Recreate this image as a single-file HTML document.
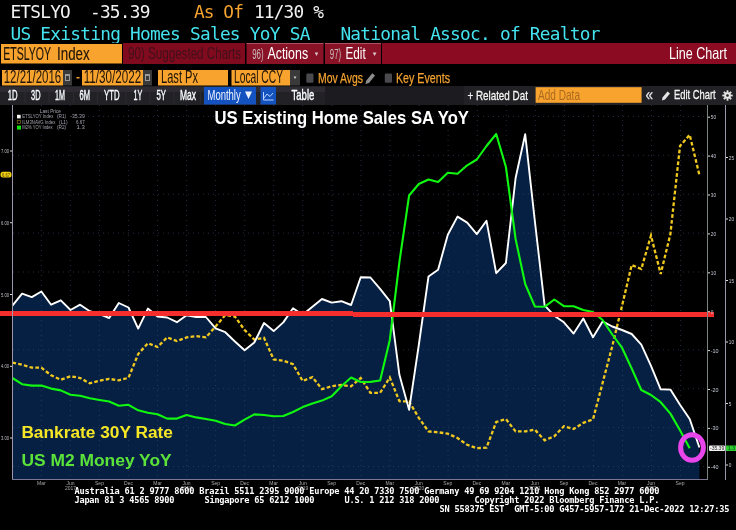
<!DOCTYPE html>
<html><head><meta charset="utf-8"><title>ETSLYOY Index Line Chart</title>
<style>
html,body{margin:0;padding:0;background:#000;width:736px;height:530px;overflow:hidden}
svg{display:block}
</style></head>
<body>
<svg width="736" height="530" viewBox="0 0 736 530">
<rect width="736" height="530" fill="#000"/>
<text x="10.4" y="18" fill="#f2f2f2" font-family="'DejaVu Sans Mono', 'Liberation Mono', monospace" font-size="17.8" font-weight="normal" textLength="140.00" lengthAdjust="spacing" xml:space="preserve" style="white-space:pre">ETSLYO  -35.39</text>
<text x="193.9" y="18" fill="#f5a330" font-family="'DejaVu Sans Mono', 'Liberation Mono', monospace" font-size="17.8" font-weight="normal" textLength="50.00" lengthAdjust="spacing" xml:space="preserve" style="white-space:pre">As Of</text>
<text x="253.9" y="18" fill="#f2f2f2" font-family="'DejaVu Sans Mono', 'Liberation Mono', monospace" font-size="17.8" font-weight="normal" textLength="70.00" lengthAdjust="spacing" xml:space="preserve" style="white-space:pre">11/30 %</text>
<text x="10.4" y="39.5" fill="#45e3ef" font-family="'DejaVu Sans Mono', 'Liberation Mono', monospace" font-size="17.8" font-weight="normal" textLength="300.00" lengthAdjust="spacing" xml:space="preserve" style="white-space:pre">US Existing Homes Sales YoY SA</text>
<text x="340.4" y="39.5" fill="#45e3ef" font-family="'DejaVu Sans Mono', 'Liberation Mono', monospace" font-size="17.8" font-weight="normal" textLength="260.00" lengthAdjust="spacing" xml:space="preserve" style="white-space:pre">National Assoc. of Realtor</text>
<rect x="0" y="43" width="736" height="22" fill="#000"/>
<rect x="1" y="44" width="121" height="19.5" fill="#f8a32e"/>
<text x="3.2" y="59.6" fill="#1e1408" font-family="'Liberation Sans', 'DejaVu Sans', sans-serif" font-size="17.5" font-weight="normal" text-anchor="start" textLength="47.8" lengthAdjust="spacingAndGlyphs" stroke="#1e1408" stroke-width="0.15">ETSLYOY</text>
<text x="57" y="59.6" fill="#1e1408" font-family="'Liberation Sans', 'DejaVu Sans', sans-serif" font-size="17.5" font-weight="normal" text-anchor="start" textLength="32.7" lengthAdjust="spacingAndGlyphs" stroke="#1e1408" stroke-width="0.15">Index</text>
<rect x="123" y="43" width="122" height="21" fill="#800a1e"/>
<text x="128" y="59" fill="#40101a" font-family="'Liberation Sans', 'DejaVu Sans', sans-serif" font-size="17" font-weight="normal" text-anchor="start" textLength="113" lengthAdjust="spacingAndGlyphs">90) Suggested Charts</text>
<rect x="246.5" y="43" width="77" height="21" fill="#8a1226"/>
<rect x="246.5" y="43" width="77" height="1" fill="#b0505e"/>
<text x="252.2" y="58.8" fill="#c9b9bc" font-family="'Liberation Sans', 'DejaVu Sans', sans-serif" font-size="15" font-weight="normal" text-anchor="start" textLength="11.4" lengthAdjust="spacingAndGlyphs">96)</text>
<text x="267.4" y="58.8" fill="#ffffff" font-family="'Liberation Sans', 'DejaVu Sans', sans-serif" font-size="17" font-weight="normal" text-anchor="start" textLength="40.7" lengthAdjust="spacingAndGlyphs">Actions</text>
<path d="M314.7 52.5 L318.3 52.5 L316.5 56 Z" fill="#d8c8cc"/>
<rect x="325" y="43" width="56" height="21" fill="#8a1226"/>
<rect x="325" y="43" width="56" height="1" fill="#b0505e"/>
<text x="329.8" y="58.8" fill="#c9b9bc" font-family="'Liberation Sans', 'DejaVu Sans', sans-serif" font-size="15" font-weight="normal" text-anchor="start" textLength="11.4" lengthAdjust="spacingAndGlyphs">97)</text>
<text x="345.5" y="58.8" fill="#ffffff" font-family="'Liberation Sans', 'DejaVu Sans', sans-serif" font-size="17" font-weight="normal" text-anchor="start" textLength="20.2" lengthAdjust="spacingAndGlyphs">Edit</text>
<path d="M372.7 52.5 L376.5 52.5 L374.6 56 Z" fill="#d8c8cc"/>
<rect x="382" y="43" width="354" height="21" fill="#8a0b22"/>
<text x="669" y="58.5" fill="#ffffff" font-family="'Liberation Sans', 'DejaVu Sans', sans-serif" font-size="16.5" font-weight="normal" text-anchor="start" textLength="58" lengthAdjust="spacingAndGlyphs">Line Chart</text>
<rect x="2" y="70" width="61" height="15.5" fill="#f8a32e"/>
<text x="3.7" y="83" fill="#1e1408" font-family="'Liberation Sans', 'DejaVu Sans', sans-serif" font-size="17.5" font-weight="normal" text-anchor="start" textLength="57.5" lengthAdjust="spacingAndGlyphs">12/21/2016</text>
<rect x="63" y="70" width="9" height="15.5" fill="#3a3a3a"/>
<rect x="65" y="74" width="5" height="7" fill="#9a9a9a"/><rect x="66" y="76" width="3" height="4" fill="#3a3a3a"/>
<rect x="76.5" y="77" width="3" height="1.5" fill="#f8a32e"/>
<rect x="82" y="70" width="61" height="15.5" fill="#f8a32e"/>
<text x="83.7" y="83" fill="#1e1408" font-family="'Liberation Sans', 'DejaVu Sans', sans-serif" font-size="17.5" font-weight="normal" text-anchor="start" textLength="57.5" lengthAdjust="spacingAndGlyphs">11/30/2022</text>
<rect x="143" y="70" width="9" height="15.5" fill="#3a3a3a"/>
<rect x="145" y="74" width="5" height="7" fill="#9a9a9a"/><rect x="146" y="76" width="3" height="4" fill="#3a3a3a"/>
<rect x="158" y="70" width="70" height="15.5" fill="#f8a32e"/>
<text x="161" y="83" fill="#1e1408" font-family="'Liberation Sans', 'DejaVu Sans', sans-serif" font-size="17.5" font-weight="normal" text-anchor="start" textLength="37" lengthAdjust="spacingAndGlyphs">Last Px</text>
<rect x="231.5" y="70" width="58.5" height="15.5" fill="#f8a32e"/>
<text x="234" y="83" fill="#1e1408" font-family="'Liberation Sans', 'DejaVu Sans', sans-serif" font-size="17.5" font-weight="normal" text-anchor="start" textLength="49" lengthAdjust="spacingAndGlyphs">Local CCY</text>
<rect x="290" y="70" width="10" height="15.5" fill="#3a3a3a"/>
<path d="M293.5 76.5 L296.5 76.5 L295 79 Z" fill="#cccccc"/>
<rect x="306.3" y="73.5" width="7.2" height="9.2" rx="1.2" fill="#4a4a4e"/>
<text x="318" y="83.2" fill="#f5a330" font-family="'Liberation Sans', 'DejaVu Sans', sans-serif" font-size="15.5" font-weight="normal" text-anchor="start" textLength="45" lengthAdjust="spacingAndGlyphs" stroke="#f5a330" stroke-width="0.25">Mov Avgs</text>
<path d="M365.5 84 L366.2 80.8 L372.2 73.2 L375 75.4 L369 83 Z" fill="#8c8c8c"/>
<rect x="384.8" y="73.5" width="7.2" height="9.2" rx="1.2" fill="#4a4a4e"/>
<text x="396" y="83.2" fill="#f5a330" font-family="'Liberation Sans', 'DejaVu Sans', sans-serif" font-size="15.5" font-weight="normal" text-anchor="start" textLength="54" lengthAdjust="spacingAndGlyphs" stroke="#f5a330" stroke-width="0.25">Key Events</text>
<rect x="0" y="86" width="325" height="19" fill="#222226"/>
<rect x="0" y="87" width="325" height="5" fill="#2e2c32"/>
<rect x="325" y="86" width="139" height="19" fill="#1c1c20"/>
<rect x="464" y="86" width="272" height="19" fill="#222226"/>
<text x="7.7" y="100" fill="#f8fcff" font-family="'Liberation Sans', 'DejaVu Sans', sans-serif" font-size="13.8" font-weight="normal" text-anchor="start" textLength="9.8" lengthAdjust="spacingAndGlyphs" stroke="#f8fcff" stroke-width="0.4">1D</text>
<text x="31" y="100" fill="#f8fcff" font-family="'Liberation Sans', 'DejaVu Sans', sans-serif" font-size="13.8" font-weight="normal" text-anchor="start" textLength="9.5" lengthAdjust="spacingAndGlyphs" stroke="#f8fcff" stroke-width="0.4">3D</text>
<text x="55" y="100" fill="#f8fcff" font-family="'Liberation Sans', 'DejaVu Sans', sans-serif" font-size="13.8" font-weight="normal" text-anchor="start" textLength="10" lengthAdjust="spacingAndGlyphs" stroke="#f8fcff" stroke-width="0.4">1M</text>
<text x="79.5" y="100" fill="#f8fcff" font-family="'Liberation Sans', 'DejaVu Sans', sans-serif" font-size="13.8" font-weight="normal" text-anchor="start" textLength="10.5" lengthAdjust="spacingAndGlyphs" stroke="#f8fcff" stroke-width="0.4">6M</text>
<text x="104" y="100" fill="#f8fcff" font-family="'Liberation Sans', 'DejaVu Sans', sans-serif" font-size="13.8" font-weight="normal" text-anchor="start" textLength="15.5" lengthAdjust="spacingAndGlyphs" stroke="#f8fcff" stroke-width="0.4">YTD</text>
<text x="133.5" y="100" fill="#f8fcff" font-family="'Liberation Sans', 'DejaVu Sans', sans-serif" font-size="13.8" font-weight="normal" text-anchor="start" textLength="8.800000000000011" lengthAdjust="spacingAndGlyphs" stroke="#f8fcff" stroke-width="0.4">1Y</text>
<text x="156.5" y="100" fill="#f8fcff" font-family="'Liberation Sans', 'DejaVu Sans', sans-serif" font-size="13.8" font-weight="normal" text-anchor="start" textLength="9.5" lengthAdjust="spacingAndGlyphs" stroke="#f8fcff" stroke-width="0.4">5Y</text>
<text x="180" y="100" fill="#f8fcff" font-family="'Liberation Sans', 'DejaVu Sans', sans-serif" font-size="13.8" font-weight="normal" text-anchor="start" textLength="16" lengthAdjust="spacingAndGlyphs" stroke="#f8fcff" stroke-width="0.4">Max</text>
<rect x="24.5" y="88" width="1" height="15" fill="#2c2c30"/>
<rect x="48.5" y="88" width="1" height="15" fill="#2c2c30"/>
<rect x="73" y="88" width="1" height="15" fill="#2c2c30"/>
<rect x="97" y="88" width="1" height="15" fill="#2c2c30"/>
<rect x="125.5" y="88" width="1" height="15" fill="#2c2c30"/>
<rect x="149.5" y="88" width="1" height="15" fill="#2c2c30"/>
<rect x="173.5" y="88" width="1" height="15" fill="#2c2c30"/>
<rect x="200" y="88" width="1" height="15" fill="#2c2c30"/>
<rect x="204" y="87" width="52" height="17.5" fill="#1452c0"/>
<text x="207.5" y="100" fill="#eef4ff" font-family="'Liberation Sans', 'DejaVu Sans', sans-serif" font-size="13.8" font-weight="normal" text-anchor="start" textLength="33.2" lengthAdjust="spacingAndGlyphs">Monthly</text>
<path d="M245 91.5 L252 91.5 L248.5 99 Z" fill="#f0f4ff"/>
<rect x="260.5" y="87" width="15.5" height="17.5" fill="#1452c0"/>
<path d="M263.5 92 L263.5 100 L273.5 100 M264 98 L267 94 L270 96.5 L273 93" stroke="#b8d4ff" stroke-width="1" fill="none"/>
<text x="291.5" y="100" fill="#f8fcff" font-family="'Liberation Sans', 'DejaVu Sans', sans-serif" font-size="13.8" font-weight="normal" text-anchor="start" textLength="22.8" lengthAdjust="spacingAndGlyphs" stroke="#f8fcff" stroke-width="0.4">Table</text>
<text x="467.4" y="99.6" fill="#f4f4f4" font-family="'Liberation Sans', 'DejaVu Sans', sans-serif" font-size="13.3" font-weight="normal" text-anchor="start" textLength="60.5" lengthAdjust="spacingAndGlyphs" stroke="#f4f4f4" stroke-width="0.3">+ Related Dat</text>
<rect x="535.6" y="87.2" width="106" height="15.6" fill="#f8a32e"/>
<text x="538" y="99.8" fill="#a86a20" font-family="'Liberation Sans', 'DejaVu Sans', sans-serif" font-size="14" font-weight="normal" text-anchor="start" textLength="42" lengthAdjust="spacingAndGlyphs">Add Data</text>
<text x="645.5" y="99.6" fill="#e8e8e8" font-family="'Liberation Sans', 'DejaVu Sans', sans-serif" font-size="16" font-weight="normal" text-anchor="start" textLength="7.5" lengthAdjust="spacingAndGlyphs" stroke="#e8e8e8" stroke-width="0.3">«</text>
<path d="M662 100.5 L662.5 97.5 L667.5 91.5 L670 93.5 L665 99.5 Z" fill="#e4e4e4"/>
<text x="674" y="99.3" fill="#f4f4f4" font-family="'Liberation Sans', 'DejaVu Sans', sans-serif" font-size="13.3" font-weight="normal" text-anchor="start" textLength="41.7" lengthAdjust="spacingAndGlyphs" stroke="#f4f4f4" stroke-width="0.3">Edit Chart</text>
<rect x="726.6" y="90.3" width="1.8" height="3" fill="#e4e4e4" transform="rotate(0 727.5 95.5)"/> <rect x="726.6" y="90.3" width="1.8" height="3" fill="#e4e4e4" transform="rotate(45 727.5 95.5)"/> <rect x="726.6" y="90.3" width="1.8" height="3" fill="#e4e4e4" transform="rotate(90 727.5 95.5)"/> <rect x="726.6" y="90.3" width="1.8" height="3" fill="#e4e4e4" transform="rotate(135 727.5 95.5)"/> <rect x="726.6" y="90.3" width="1.8" height="3" fill="#e4e4e4" transform="rotate(180 727.5 95.5)"/> <rect x="726.6" y="90.3" width="1.8" height="3" fill="#e4e4e4" transform="rotate(225 727.5 95.5)"/> <rect x="726.6" y="90.3" width="1.8" height="3" fill="#e4e4e4" transform="rotate(270 727.5 95.5)"/> <rect x="726.6" y="90.3" width="1.8" height="3" fill="#e4e4e4" transform="rotate(315 727.5 95.5)"/>
<circle cx="727.5" cy="95.5" r="3.3" fill="#e4e4e4"/><circle cx="727.5" cy="95.5" r="1.3" fill="#222226"/>
<rect x="0" y="105" width="736" height="375" fill="#000"/>
<polygon points="12.4,305.6 22.1,293.6 31.8,297.1 41.4,291.5 51.1,304.7 60.8,300.3 70.5,310.0 80.1,304.7 89.8,311.2 99.5,314.0 109.2,318.0 118.8,303.0 128.5,307.5 138.2,328.6 147.9,308.6 157.5,316.5 167.2,317.5 176.9,322.2 186.6,315.3 196.2,317.0 205.9,317.0 215.6,328.4 225.3,332.2 234.9,341.5 244.6,350.3 254.3,342.5 264.0,323.0 273.7,331.1 283.3,322.4 293.0,308.3 302.7,314.8 312.4,306.8 322.0,299.0 331.7,302.6 341.4,301.2 351.1,305.0 360.7,277.3 370.4,277.5 380.1,288.9 389.8,301.2 399.4,374.8 409.1,409.8 418.8,345.0 428.5,276.5 438.1,269.8 447.8,234.7 457.5,216.6 467.2,222.6 476.8,234.1 486.5,220.8 496.2,273.2 505.9,263.0 515.6,178.0 525.2,134.3 534.9,221.5 544.6,305.3 554.3,315.7 563.9,322.3 573.6,333.6 583.3,318.5 593.0,337.2 602.6,321.4 612.3,326.5 622.0,330.0 631.7,334.0 641.3,344.7 651.0,365.8 660.7,389.3 670.4,389.6 680.0,404.8 689.7,419.0 699.4,447.5 699.4,479 12.4,479" fill="#062044"/>
<path d="M13 116.4 H707 M13 155.3 H707 M13 194.2 H707 M13 233.1 H707 M13 272.0 H707 M13 349.8 H707 M13 388.7 H707 M13 427.6 H707 M13 466.5 H707 M41.3 105 V479 M70.3 105 V479 M99.4 105 V479 M128.4 105 V479 M157.5 105 V479 M186.6 105 V479 M215.6 105 V479 M244.7 105 V479 M273.7 105 V479 M302.8 105 V479 M331.9 105 V479 M360.9 105 V479 M390.0 105 V479 M419.1 105 V479 M448.1 105 V479 M477.2 105 V479 M506.2 105 V479 M535.3 105 V479 M564.4 105 V479 M593.4 105 V479 M622.5 105 V479 M651.5 105 V479 M680.6 105 V479" stroke="#3a4a6a" stroke-width="1" stroke-dasharray="1 4" fill="none" opacity="0.6"/>
<polyline points="12.4,362.6 22.1,364.7 31.8,367.7 41.4,367.7 51.1,375.3 60.8,379.8 70.5,376.2 80.1,378.0 89.8,383.3 99.5,380.6 109.2,378.9 118.8,380.3 128.5,377.8 138.2,354.0 147.9,343.2 157.5,347.0 167.2,337.4 176.9,341.0 186.6,337.4 196.2,336.2 205.9,337.4 215.6,326.5 225.3,315.0 234.9,316.5 244.6,330.0 254.3,339.6 264.0,337.8 273.7,359.5 283.3,360.7 293.0,364.2 302.7,381.0 312.4,377.1 322.0,389.1 331.7,386.3 341.4,385.0 351.1,386.3 360.7,378.0 370.4,392.8 380.1,392.8 389.8,377.5 399.4,401.2 409.1,401.5 418.8,417.8 428.5,431.5 438.1,432.3 447.8,433.6 457.5,438.0 467.2,444.8 476.8,448.2 486.5,447.7 496.2,422.0 505.9,419.1 515.6,431.4 525.2,431.4 534.9,429.7 544.6,440.3 554.3,436.3 563.9,426.2 573.6,429.0 583.3,422.8 593.0,419.4 602.6,383.0 612.3,346.0 622.0,306.0 631.7,265.0 641.3,269.0 651.0,235.5 660.7,274.0 670.4,234.0 680.0,146.0 689.7,134.8 699.4,175.0" fill="none" stroke="#f0c81e" stroke-width="2.3" stroke-dasharray="3.7 2.2"/>
<polyline points="12.4,305.6 22.1,293.6 31.8,297.1 41.4,291.5 51.1,304.7 60.8,300.3 70.5,310.0 80.1,304.7 89.8,311.2 99.5,314.0 109.2,318.0 118.8,303.0 128.5,307.5 138.2,328.6 147.9,308.6 157.5,316.5 167.2,317.5 176.9,322.2 186.6,315.3 196.2,317.0 205.9,317.0 215.6,328.4 225.3,332.2 234.9,341.5 244.6,350.3 254.3,342.5 264.0,323.0 273.7,331.1 283.3,322.4 293.0,308.3 302.7,314.8 312.4,306.8 322.0,299.0 331.7,302.6 341.4,301.2 351.1,305.0 360.7,277.3 370.4,277.5 380.1,288.9 389.8,301.2 399.4,374.8 409.1,409.8 418.8,345.0 428.5,276.5 438.1,269.8 447.8,234.7 457.5,216.6 467.2,222.6 476.8,234.1 486.5,220.8 496.2,273.2 505.9,263.0 515.6,178.0 525.2,134.3 534.9,221.5 544.6,305.3 554.3,315.7 563.9,322.3 573.6,333.6 583.3,318.5 593.0,337.2 602.6,321.4 612.3,326.5 622.0,330.0 631.7,334.0 641.3,344.7 651.0,365.8 660.7,389.3 670.4,389.6 680.0,404.8 689.7,419.0 699.4,447.5" fill="none" stroke="#ffffff" stroke-width="1.9" stroke-linejoin="round"/>
<polyline points="12.4,378.0 22.1,384.2 31.8,385.6 41.4,385.6 51.1,388.6 60.8,390.4 70.5,394.8 80.1,395.7 89.8,398.3 99.5,400.0 109.2,401.5 118.8,405.7 128.5,404.8 138.2,410.3 147.9,412.8 157.5,414.2 167.2,418.6 176.9,418.6 186.6,415.0 196.2,417.4 205.9,419.0 215.6,420.7 225.3,424.0 234.9,425.5 244.6,419.6 254.3,414.4 264.0,415.0 273.7,416.3 283.3,416.0 293.0,412.0 302.7,407.1 312.4,403.6 322.0,400.6 331.7,396.2 341.4,386.3 351.1,377.5 360.7,382.0 370.4,381.9 380.1,380.5 389.8,340.0 399.4,262.0 409.1,195.5 418.8,184.0 428.5,179.5 438.1,181.9 447.8,172.8 457.5,173.7 467.2,165.3 476.8,159.5 486.5,146.0 496.2,134.0 505.9,167.0 515.6,239.0 525.2,284.0 534.9,306.5 544.6,306.8 554.3,299.5 563.9,306.2 573.6,306.2 583.3,310.0 593.0,312.0 602.6,320.0 612.3,334.5 622.0,347.7 631.7,368.5 641.3,390.0 651.0,395.0 660.7,402.2 670.4,413.6 680.0,430.2 689.7,448.3" fill="none" stroke="#10f810" stroke-width="2.1" stroke-linejoin="round"/>
<rect x="0" y="311" width="353" height="5" fill="#f52d2d"/>
<rect x="353" y="312" width="361" height="5" fill="#f52d2d"/>
<rect x="12" y="105" width="1" height="375" fill="#9c94aa"/>
<rect x="12" y="479" width="696" height="1" fill="#7c7692"/>
<rect x="707" y="105" width="1" height="375" fill="#7a8480"/>
<rect x="725" y="105" width="1" height="375" fill="#9c94aa"/>
<rect x="708" y="116.7" width="2" height="1" fill="#ddd"/>
<text x="710.8" y="119.19999999999999" fill="#c8ccd8" font-family="'Liberation Sans', 'DejaVu Sans', sans-serif" font-size="5.2" font-weight="normal" text-anchor="start" textLength="5.2" lengthAdjust="spacingAndGlyphs">50</text>
<rect x="708" y="155.6" width="2" height="1" fill="#ddd"/>
<text x="710.8" y="158.1" fill="#c8ccd8" font-family="'Liberation Sans', 'DejaVu Sans', sans-serif" font-size="5.2" font-weight="normal" text-anchor="start" textLength="5.2" lengthAdjust="spacingAndGlyphs">40</text>
<rect x="708" y="194.5" width="2" height="1" fill="#ddd"/>
<text x="710.8" y="197.0" fill="#c8ccd8" font-family="'Liberation Sans', 'DejaVu Sans', sans-serif" font-size="5.2" font-weight="normal" text-anchor="start" textLength="5.2" lengthAdjust="spacingAndGlyphs">30</text>
<rect x="708" y="233.4" width="2" height="1" fill="#ddd"/>
<text x="710.8" y="235.89999999999998" fill="#c8ccd8" font-family="'Liberation Sans', 'DejaVu Sans', sans-serif" font-size="5.2" font-weight="normal" text-anchor="start" textLength="5.2" lengthAdjust="spacingAndGlyphs">20</text>
<rect x="708" y="272.3" width="2" height="1" fill="#ddd"/>
<text x="710.8" y="274.8" fill="#c8ccd8" font-family="'Liberation Sans', 'DejaVu Sans', sans-serif" font-size="5.2" font-weight="normal" text-anchor="start" textLength="5.2" lengthAdjust="spacingAndGlyphs">10</text>
<rect x="708" y="311.2" width="2" height="1" fill="#ddd"/>
<text x="710.8" y="313.7" fill="#c8ccd8" font-family="'Liberation Sans', 'DejaVu Sans', sans-serif" font-size="5.2" font-weight="normal" text-anchor="start" textLength="2.6" lengthAdjust="spacingAndGlyphs">0</text>
<rect x="708" y="350.1" width="2" height="1" fill="#ddd"/>
<text x="710.8" y="352.59999999999997" fill="#c8ccd8" font-family="'Liberation Sans', 'DejaVu Sans', sans-serif" font-size="5.2" font-weight="normal" text-anchor="start" textLength="7.800000000000001" lengthAdjust="spacingAndGlyphs">-10</text>
<rect x="708" y="389.0" width="2" height="1" fill="#ddd"/>
<text x="710.8" y="391.5" fill="#c8ccd8" font-family="'Liberation Sans', 'DejaVu Sans', sans-serif" font-size="5.2" font-weight="normal" text-anchor="start" textLength="7.800000000000001" lengthAdjust="spacingAndGlyphs">-20</text>
<rect x="708" y="427.9" width="2" height="1" fill="#ddd"/>
<text x="710.8" y="430.4" fill="#c8ccd8" font-family="'Liberation Sans', 'DejaVu Sans', sans-serif" font-size="5.2" font-weight="normal" text-anchor="start" textLength="7.800000000000001" lengthAdjust="spacingAndGlyphs">-30</text>
<rect x="708" y="466.8" width="2" height="1" fill="#ddd"/>
<text x="710.8" y="469.29999999999995" fill="#c8ccd8" font-family="'Liberation Sans', 'DejaVu Sans', sans-serif" font-size="5.2" font-weight="normal" text-anchor="start" textLength="7.800000000000001" lengthAdjust="spacingAndGlyphs">-40</text>
<rect x="726" y="157.0" width="2" height="1" fill="#ddd"/>
<text x="728.8" y="159.5" fill="#c8ccd8" font-family="'Liberation Sans', 'DejaVu Sans', sans-serif" font-size="5.2" font-weight="normal" text-anchor="start" textLength="5.2" lengthAdjust="spacingAndGlyphs">25</text>
<rect x="726" y="218.5" width="2" height="1" fill="#ddd"/>
<text x="728.8" y="221.0" fill="#c8ccd8" font-family="'Liberation Sans', 'DejaVu Sans', sans-serif" font-size="5.2" font-weight="normal" text-anchor="start" textLength="5.2" lengthAdjust="spacingAndGlyphs">20</text>
<rect x="726" y="280.0" width="2" height="1" fill="#ddd"/>
<text x="728.8" y="282.5" fill="#c8ccd8" font-family="'Liberation Sans', 'DejaVu Sans', sans-serif" font-size="5.2" font-weight="normal" text-anchor="start" textLength="5.2" lengthAdjust="spacingAndGlyphs">15</text>
<rect x="726" y="341.5" width="2" height="1" fill="#ddd"/>
<text x="728.8" y="344.0" fill="#c8ccd8" font-family="'Liberation Sans', 'DejaVu Sans', sans-serif" font-size="5.2" font-weight="normal" text-anchor="start" textLength="5.2" lengthAdjust="spacingAndGlyphs">10</text>
<rect x="726" y="403.0" width="2" height="1" fill="#ddd"/>
<text x="728.8" y="405.5" fill="#c8ccd8" font-family="'Liberation Sans', 'DejaVu Sans', sans-serif" font-size="5.2" font-weight="normal" text-anchor="start" textLength="2.6" lengthAdjust="spacingAndGlyphs">5</text>
<rect x="726" y="464.5" width="2" height="1" fill="#ddd"/>
<text x="728.8" y="467.0" fill="#c8ccd8" font-family="'Liberation Sans', 'DejaVu Sans', sans-serif" font-size="5.2" font-weight="normal" text-anchor="start" textLength="2.6" lengthAdjust="spacingAndGlyphs">0</text>
<rect x="10" y="150.5" width="2" height="1" fill="#ddd"/>
<text x="1" y="153.0" fill="#c0c0c8" font-family="'Liberation Sans', 'DejaVu Sans', sans-serif" font-size="5.4" font-weight="normal" text-anchor="start" textLength="8" lengthAdjust="spacingAndGlyphs">7.00</text>
<rect x="10" y="222.2" width="2" height="1" fill="#ddd"/>
<text x="1" y="224.75" fill="#c0c0c8" font-family="'Liberation Sans', 'DejaVu Sans', sans-serif" font-size="5.4" font-weight="normal" text-anchor="start" textLength="8" lengthAdjust="spacingAndGlyphs">6.00</text>
<rect x="10" y="294.0" width="2" height="1" fill="#ddd"/>
<text x="1" y="296.5" fill="#c0c0c8" font-family="'Liberation Sans', 'DejaVu Sans', sans-serif" font-size="5.4" font-weight="normal" text-anchor="start" textLength="8" lengthAdjust="spacingAndGlyphs">5.00</text>
<rect x="10" y="365.8" width="2" height="1" fill="#ddd"/>
<text x="1" y="368.25" fill="#c0c0c8" font-family="'Liberation Sans', 'DejaVu Sans', sans-serif" font-size="5.4" font-weight="normal" text-anchor="start" textLength="8" lengthAdjust="spacingAndGlyphs">4.00</text>
<rect x="10" y="437.5" width="2" height="1" fill="#ddd"/>
<text x="1" y="440.0" fill="#c0c0c8" font-family="'Liberation Sans', 'DejaVu Sans', sans-serif" font-size="5.4" font-weight="normal" text-anchor="start" textLength="8" lengthAdjust="spacingAndGlyphs">3.00</text>
<rect x="0.5" y="171.8" width="11" height="5.8" rx="2.5" fill="#f0d010"/>
<text x="2" y="176.6" fill="#4a3a00" font-family="'Liberation Sans', 'DejaVu Sans', sans-serif" font-size="5.2" font-weight="normal" text-anchor="start" textLength="8" lengthAdjust="spacingAndGlyphs">6.67</text>
<rect x="709" y="445.5" width="16" height="5.5" rx="1" fill="#f0f0f0"/>
<text x="710" y="450.3" fill="#222" font-family="'Liberation Sans', 'DejaVu Sans', sans-serif" font-size="5" font-weight="normal" text-anchor="start">-35.39</text>
<rect x="726" y="445.5" width="10" height="5.5" fill="#2ed02e"/>
<text x="728" y="450.3" fill="#042" font-family="'Liberation Sans', 'DejaVu Sans', sans-serif" font-size="5" font-weight="normal" text-anchor="start">1.3</text>
<text x="41.428" y="484.5" fill="#a8a8a8" font-family="'Liberation Sans', 'DejaVu Sans', sans-serif" font-size="5" font-weight="normal" text-anchor="middle">Mar</text>
<text x="70.456" y="484.5" fill="#a8a8a8" font-family="'Liberation Sans', 'DejaVu Sans', sans-serif" font-size="5" font-weight="normal" text-anchor="middle">Jun</text>
<text x="70.456" y="490" fill="#a8a8a8" font-family="'Liberation Sans', 'DejaVu Sans', sans-serif" font-size="5" font-weight="normal" text-anchor="middle">2017</text>
<text x="99.48400000000001" y="484.5" fill="#a8a8a8" font-family="'Liberation Sans', 'DejaVu Sans', sans-serif" font-size="5" font-weight="normal" text-anchor="middle">Sep</text>
<text x="128.512" y="484.5" fill="#a8a8a8" font-family="'Liberation Sans', 'DejaVu Sans', sans-serif" font-size="5" font-weight="normal" text-anchor="middle">Dec</text>
<text x="157.54000000000002" y="484.5" fill="#a8a8a8" font-family="'Liberation Sans', 'DejaVu Sans', sans-serif" font-size="5" font-weight="normal" text-anchor="middle">Mar</text>
<text x="186.568" y="484.5" fill="#a8a8a8" font-family="'Liberation Sans', 'DejaVu Sans', sans-serif" font-size="5" font-weight="normal" text-anchor="middle">Jun</text>
<text x="186.568" y="490" fill="#a8a8a8" font-family="'Liberation Sans', 'DejaVu Sans', sans-serif" font-size="5" font-weight="normal" text-anchor="middle">2018</text>
<text x="215.596" y="484.5" fill="#a8a8a8" font-family="'Liberation Sans', 'DejaVu Sans', sans-serif" font-size="5" font-weight="normal" text-anchor="middle">Sep</text>
<text x="244.624" y="484.5" fill="#a8a8a8" font-family="'Liberation Sans', 'DejaVu Sans', sans-serif" font-size="5" font-weight="normal" text-anchor="middle">Dec</text>
<text x="273.652" y="484.5" fill="#a8a8a8" font-family="'Liberation Sans', 'DejaVu Sans', sans-serif" font-size="5" font-weight="normal" text-anchor="middle">Mar</text>
<text x="302.68" y="484.5" fill="#a8a8a8" font-family="'Liberation Sans', 'DejaVu Sans', sans-serif" font-size="5" font-weight="normal" text-anchor="middle">Jun</text>
<text x="302.68" y="490" fill="#a8a8a8" font-family="'Liberation Sans', 'DejaVu Sans', sans-serif" font-size="5" font-weight="normal" text-anchor="middle">2019</text>
<text x="331.70799999999997" y="484.5" fill="#a8a8a8" font-family="'Liberation Sans', 'DejaVu Sans', sans-serif" font-size="5" font-weight="normal" text-anchor="middle">Sep</text>
<text x="360.736" y="484.5" fill="#a8a8a8" font-family="'Liberation Sans', 'DejaVu Sans', sans-serif" font-size="5" font-weight="normal" text-anchor="middle">Dec</text>
<text x="389.764" y="484.5" fill="#a8a8a8" font-family="'Liberation Sans', 'DejaVu Sans', sans-serif" font-size="5" font-weight="normal" text-anchor="middle">Mar</text>
<text x="418.792" y="484.5" fill="#a8a8a8" font-family="'Liberation Sans', 'DejaVu Sans', sans-serif" font-size="5" font-weight="normal" text-anchor="middle">Jun</text>
<text x="418.792" y="490" fill="#a8a8a8" font-family="'Liberation Sans', 'DejaVu Sans', sans-serif" font-size="5" font-weight="normal" text-anchor="middle">2020</text>
<text x="447.82" y="484.5" fill="#a8a8a8" font-family="'Liberation Sans', 'DejaVu Sans', sans-serif" font-size="5" font-weight="normal" text-anchor="middle">Sep</text>
<text x="476.84799999999996" y="484.5" fill="#a8a8a8" font-family="'Liberation Sans', 'DejaVu Sans', sans-serif" font-size="5" font-weight="normal" text-anchor="middle">Dec</text>
<text x="505.876" y="484.5" fill="#a8a8a8" font-family="'Liberation Sans', 'DejaVu Sans', sans-serif" font-size="5" font-weight="normal" text-anchor="middle">Mar</text>
<text x="534.904" y="484.5" fill="#a8a8a8" font-family="'Liberation Sans', 'DejaVu Sans', sans-serif" font-size="5" font-weight="normal" text-anchor="middle">Jun</text>
<text x="534.904" y="490" fill="#a8a8a8" font-family="'Liberation Sans', 'DejaVu Sans', sans-serif" font-size="5" font-weight="normal" text-anchor="middle">2021</text>
<text x="563.932" y="484.5" fill="#a8a8a8" font-family="'Liberation Sans', 'DejaVu Sans', sans-serif" font-size="5" font-weight="normal" text-anchor="middle">Sep</text>
<text x="592.96" y="484.5" fill="#a8a8a8" font-family="'Liberation Sans', 'DejaVu Sans', sans-serif" font-size="5" font-weight="normal" text-anchor="middle">Dec</text>
<text x="621.9879999999999" y="484.5" fill="#a8a8a8" font-family="'Liberation Sans', 'DejaVu Sans', sans-serif" font-size="5" font-weight="normal" text-anchor="middle">Mar</text>
<text x="651.016" y="484.5" fill="#a8a8a8" font-family="'Liberation Sans', 'DejaVu Sans', sans-serif" font-size="5" font-weight="normal" text-anchor="middle">Jun</text>
<text x="651.016" y="490" fill="#a8a8a8" font-family="'Liberation Sans', 'DejaVu Sans', sans-serif" font-size="5" font-weight="normal" text-anchor="middle">2022</text>
<text x="680.044" y="484.5" fill="#a8a8a8" font-family="'Liberation Sans', 'DejaVu Sans', sans-serif" font-size="5" font-weight="normal" text-anchor="middle">Sep</text>
<rect x="14" y="106" width="74" height="26" fill="#000"/>
<text x="39.8" y="112.7" fill="#a4a4b0" font-family="'Liberation Sans', 'DejaVu Sans', sans-serif" font-size="5.2" font-weight="normal" text-anchor="start" textLength="21.2" lengthAdjust="spacingAndGlyphs">Last Price</text>
<rect x="17" y="114.8" width="3.7" height="3.6" fill="#f4f4f4"/>
<text x="22.3" y="118.4" fill="#a4a4b0" font-family="'Liberation Sans', 'DejaVu Sans', sans-serif" font-size="5.2" font-weight="normal" text-anchor="start" textLength="31" lengthAdjust="spacingAndGlyphs">ETSLYOY Index</text>
<text x="56.9" y="118.4" fill="#a4a4b0" font-family="'Liberation Sans', 'DejaVu Sans', sans-serif" font-size="5.2" font-weight="normal" text-anchor="start" textLength="9.3" lengthAdjust="spacingAndGlyphs">(R1)</text>
<text x="70.3" y="118.4" fill="#a4a4b0" font-family="'Liberation Sans', 'DejaVu Sans', sans-serif" font-size="5.2" font-weight="normal" text-anchor="start" textLength="14.5" lengthAdjust="spacingAndGlyphs">-35.39</text>
<rect x="17.3" y="120.3" width="3.2" height="3.2" fill="none" stroke="#8a7020" stroke-width="0.7"/>
<text x="22.3" y="123.8" fill="#a4a4b0" font-family="'Liberation Sans', 'DejaVu Sans', sans-serif" font-size="5.2" font-weight="normal" text-anchor="start" textLength="33" lengthAdjust="spacingAndGlyphs">ILM3NAVG Index</text>
<text x="59" y="123.8" fill="#a4a4b0" font-family="'Liberation Sans', 'DejaVu Sans', sans-serif" font-size="5.2" font-weight="normal" text-anchor="start" textLength="8.7" lengthAdjust="spacingAndGlyphs">(L1)</text>
<text x="76" y="123.8" fill="#a4a4b0" font-family="'Liberation Sans', 'DejaVu Sans', sans-serif" font-size="5.2" font-weight="normal" text-anchor="start" textLength="8.8" lengthAdjust="spacingAndGlyphs">6.67</text>
<rect x="17" y="125.6" width="4" height="4" fill="#10e010"/>
<text x="22.3" y="129.2" fill="#a4a4b0" font-family="'Liberation Sans', 'DejaVu Sans', sans-serif" font-size="5.2" font-weight="normal" text-anchor="start" textLength="30.4" lengthAdjust="spacingAndGlyphs">M2% YOY Index</text>
<text x="56.9" y="129.2" fill="#a4a4b0" font-family="'Liberation Sans', 'DejaVu Sans', sans-serif" font-size="5.2" font-weight="normal" text-anchor="start" textLength="9.3" lengthAdjust="spacingAndGlyphs">(R2)</text>
<text x="76.5" y="129.2" fill="#a4a4b0" font-family="'Liberation Sans', 'DejaVu Sans', sans-serif" font-size="5.2" font-weight="normal" text-anchor="start" textLength="8.3" lengthAdjust="spacingAndGlyphs">1.3</text>
<text x="214.5" y="123.7" fill="#ffffff" font-family="'Liberation Sans', 'DejaVu Sans', sans-serif" font-size="18.6" font-weight="bold" text-anchor="start" textLength="254.5" lengthAdjust="spacingAndGlyphs">US Existing Home Sales SA YoY</text>
<text x="21.4" y="438.3" fill="#f5e626" font-family="'Liberation Sans', 'DejaVu Sans', sans-serif" font-size="17.2" font-weight="bold" text-anchor="start" textLength="151.5" lengthAdjust="spacingAndGlyphs">Bankrate 30Y Rate</text>
<text x="21.4" y="466.4" fill="#5ce33a" font-family="'Liberation Sans', 'DejaVu Sans', sans-serif" font-size="17.4" font-weight="bold" text-anchor="start" textLength="150.3" lengthAdjust="spacingAndGlyphs">US M2 Money YoY</text>
<ellipse cx="692" cy="447.5" rx="11.4" ry="12.8" fill="none" stroke="#e845ea" stroke-width="5"/>
<text x="74.4" y="493.5" fill="#ffffff" font-family="'DejaVu Sans Mono', 'Liberation Mono', monospace" font-size="8.6" font-weight="bold" textLength="585.00" lengthAdjust="spacing" xml:space="preserve" style="white-space:pre">Australia 61 2 9777 8600 Brazil 5511 2395 9000 Europe 44 20 7330 7500 Germany 49 69 9204 1210 Hong Kong 852 2977 6000</text>
<text x="74.4" y="502.5" fill="#ffffff" font-family="'DejaVu Sans Mono', 'Liberation Mono', monospace" font-size="8.6" font-weight="bold" textLength="100.00" lengthAdjust="spacing" xml:space="preserve" style="white-space:pre">Japan 81 3 4565 8900</text>
<text x="204.4" y="502.5" fill="#ffffff" font-family="'DejaVu Sans Mono', 'Liberation Mono', monospace" font-size="8.6" font-weight="bold" textLength="110.00" lengthAdjust="spacing" xml:space="preserve" style="white-space:pre">Singapore 65 6212 1000</text>
<text x="344.4" y="502.5" fill="#ffffff" font-family="'DejaVu Sans Mono', 'Liberation Mono', monospace" font-size="8.6" font-weight="bold" textLength="95.00" lengthAdjust="spacing" xml:space="preserve" style="white-space:pre">U.S. 1 212 318 2000</text>
<text x="474.4" y="502.5" fill="#ffffff" font-family="'DejaVu Sans Mono', 'Liberation Mono', monospace" font-size="8.6" font-weight="bold" textLength="185.00" lengthAdjust="spacing" xml:space="preserve" style="white-space:pre">Copyright 2022 Bloomberg Finance L.P.</text>
<text x="439.4" y="511.5" fill="#ffffff" font-family="'DejaVu Sans Mono', 'Liberation Mono', monospace" font-size="8.6" font-weight="bold" textLength="290.00" lengthAdjust="spacing" xml:space="preserve" style="white-space:pre">SN 558375 EST  GMT-5:00 G457-5957-172 21-Dec-2022 12:27:35</text>
</svg>
</body></html>
